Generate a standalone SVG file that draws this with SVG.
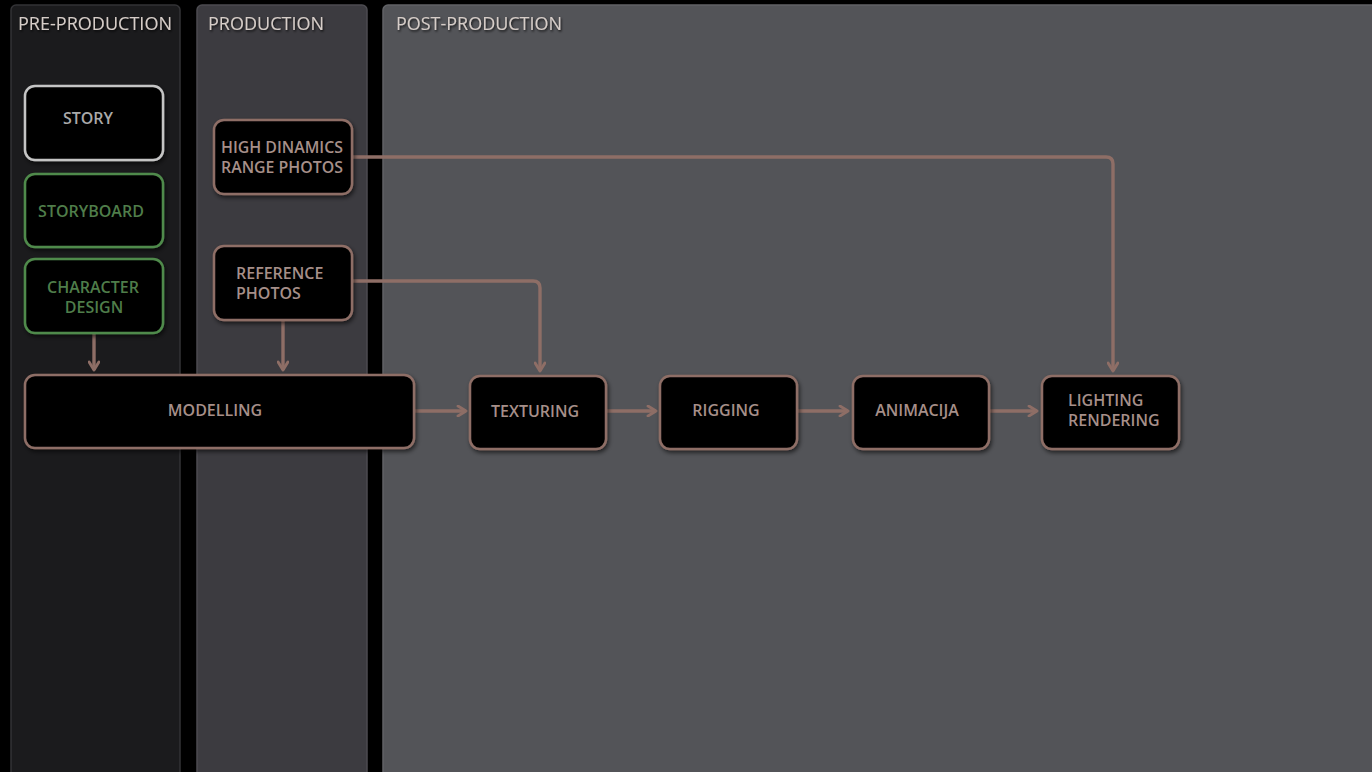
<svg xmlns="http://www.w3.org/2000/svg" width="1372" height="772" viewBox="0 0 1372 772">
<defs>
<style>
.lane{stroke-width:1.5}
.title{font-family:"Open Sans","Liberation Sans",sans-serif;font-size:18px;font-weight:500;fill:#d6cdc8;filter:url(#tsh)}
.node{fill:#030303;stroke-width:2.5;filter:url(#sh)}
.brown{stroke:#8e6e66}
.t{font-family:"Open Sans","Liberation Sans",sans-serif;font-size:16px;font-weight:600;fill:#a68f89}
.conn{fill:none;stroke:#8e6e66;stroke-width:3.4;stroke-linejoin:round}
</style>
<filter id="sh" x="-10%" y="-10%" width="130%" height="140%">
<feDropShadow dx="1.5" dy="2.5" stdDeviation="2" flood-color="#000" flood-opacity="0.6"/>
</filter>
<filter id="tsh" x="-5%" y="-20%" width="115%" height="160%">
<feDropShadow dx="1" dy="1.5" stdDeviation="1" flood-color="#000" flood-opacity="0.8"/>
</filter>
<marker id="arr" viewBox="0 0 10 10" refX="8" refY="5" markerWidth="3.6" markerHeight="3.6" orient="auto" markerUnits="strokeWidth">
<path d="M1.5,1 L8,5 L1.5,9" fill="none" stroke="#8e6e66" stroke-width="2.4" stroke-linecap="round" stroke-linejoin="round"/>
</marker>
</defs>
<rect width="1372" height="772" fill="#000"/>
<g id="lane-pre">
<rect class="lane" x="11" y="5" width="169" height="780" rx="5" fill="#1b1b1d" stroke="#333336"/>
<text class="title" x="18" y="30" textLength="154" lengthAdjust="spacingAndGlyphs">PRE-PRODUCTION</text>
</g>
<g id="lane-prod">
<rect class="lane" x="197" y="5" width="170" height="780" rx="5" fill="#3c3b40" stroke="#4c4b50"/>
<text class="title" x="208" y="30" textLength="116" lengthAdjust="spacingAndGlyphs">PRODUCTION</text>
</g>
<g id="lane-post">
<rect class="lane" x="383" y="5" width="1000" height="780" rx="5" fill="#535458" stroke="#616266"/>
<text class="title" x="396" y="30" textLength="166" lengthAdjust="spacingAndGlyphs">POST-PRODUCTION</text>
</g>
<g id="connectors">
<path class="conn" d="M94,334 V370" marker-end="url(#arr)"/>
<path class="conn" d="M283,321 V370" marker-end="url(#arr)"/>
<path class="conn" d="M353,157 H1106 Q1113,157 1113,164 V371" marker-end="url(#arr)"/>
<path class="conn" d="M353,281 H533 Q540,281 540,288 V371" marker-end="url(#arr)"/>
<path class="conn" d="M415,411 H466" marker-end="url(#arr)"/>
<path class="conn" d="M607,411 H656" marker-end="url(#arr)"/>
<path class="conn" d="M798,411 H848" marker-end="url(#arr)"/>
<path class="conn" d="M990,411 H1037" marker-end="url(#arr)"/>
</g>
<g id="story">
<rect class="node" x="25" y="86" width="138" height="74" rx="10" stroke="#c4c4c4"/>
<text class="t" x="88" y="124" text-anchor="middle" style="fill:#a9a9a9">STORY</text>
</g>
<g id="storyboard">
<rect class="node" x="25" y="174" width="138" height="73" rx="10" stroke="#4f8a4b"/>
<text class="t" x="91" y="217" text-anchor="middle" style="fill:#4f7d4a">STORYBOARD</text>
</g>
<g id="character-design">
<rect class="node" x="25" y="259" width="138" height="74" rx="10" stroke="#4f8a4b"/>
<text class="t" x="93" y="293" text-anchor="middle" style="fill:#4f7d4a">CHARACTER</text>
<text class="t" x="94" y="313" text-anchor="middle" style="fill:#4f7d4a">DESIGN</text>
</g>
<g id="hdr-photos">
<rect class="node brown" x="214" y="120" width="138" height="74" rx="10"/>
<text class="t" x="221" y="153" textLength="122" lengthAdjust="spacingAndGlyphs">HIGH DINAMICS</text>
<text class="t" x="221" y="173" textLength="122" lengthAdjust="spacingAndGlyphs">RANGE PHOTOS</text>
</g>
<g id="reference-photos">
<rect class="node brown" x="214" y="246" width="138" height="74" rx="10"/>
<text class="t" x="236" y="279">REFERENCE</text>
<text class="t" x="236" y="299">PHOTOS</text>
</g>
<g id="modelling">
<rect class="node brown" x="25" y="375" width="389" height="73" rx="10"/>
<text class="t" x="215" y="416" text-anchor="middle">MODELLING</text>
</g>
<g id="texturing">
<rect class="node brown" x="470" y="376" width="136" height="73" rx="10"/>
<text class="t" x="535" y="417" text-anchor="middle">TEXTURING</text>
</g>
<g id="rigging">
<rect class="node brown" x="660" y="376" width="137" height="73" rx="10"/>
<text class="t" x="726" y="416" text-anchor="middle">RIGGING</text>
</g>
<g id="animacija">
<rect class="node brown" x="853" y="376" width="136" height="73" rx="10"/>
<text class="t" x="917" y="416" text-anchor="middle">ANIMACIJA</text>
</g>
<g id="lighting-rendering">
<rect class="node brown" x="1042" y="376" width="137" height="73" rx="10"/>
<text class="t" x="1068" y="406">LIGHTING</text>
<text class="t" x="1068" y="426">RENDERING</text>
</g>
</svg>
